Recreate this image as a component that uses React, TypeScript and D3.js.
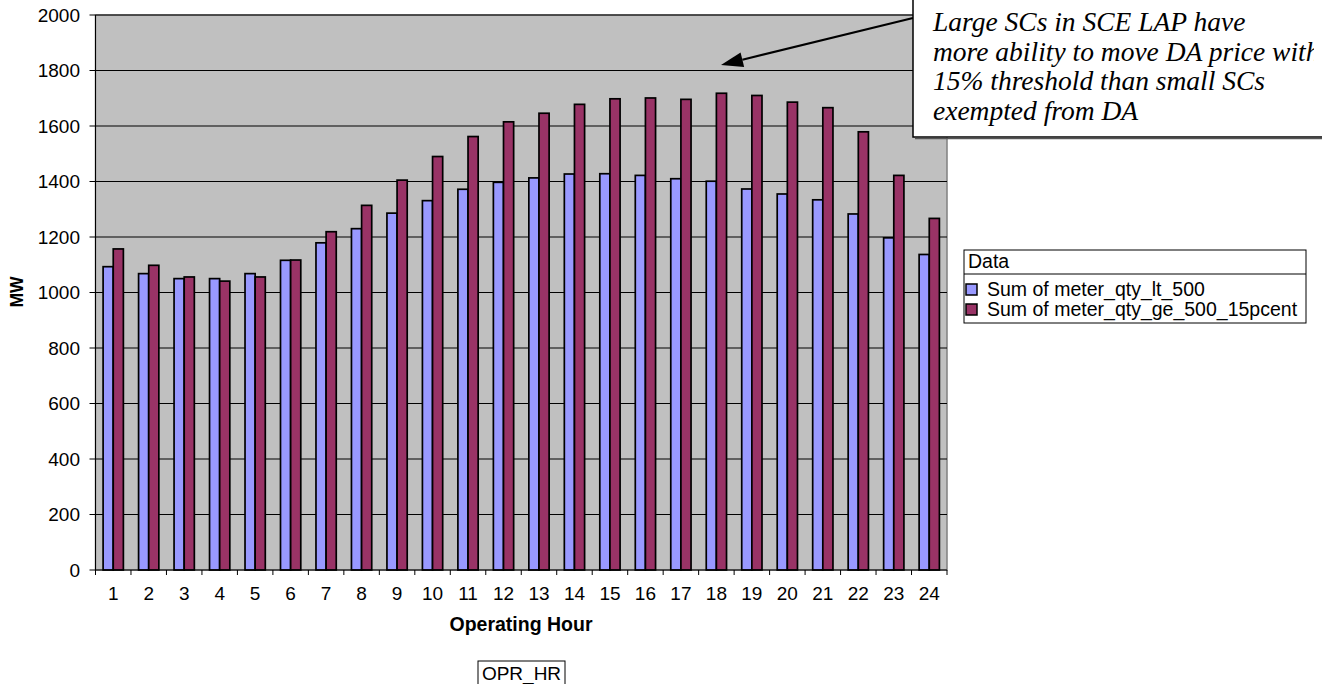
import React from "react";
import * as d3 from "d3";

const hours = ["1","2","3","4","5","6","7","8","9","10","11","12","13","14","15","16","17","18","19","20","21","22","23","24"];
const seriesNames = ["Sum of meter_qty_lt_500", "Sum of meter_qty_ge_500_15pcent"];
const ltValues = [1093,1068,1050,1050,1068,1116,1179,1230,1286,1331,1372,1397,1413,1427,1428,1422,1410,1401,1373,1355,1334,1283,1197,1137];
const geValues = [1157,1098,1056,1041,1056,1117,1219,1314,1405,1490,1562,1615,1646,1678,1698,1701,1696,1718,1710,1686,1666,1579,1422,1267];
const yTicks = [0,200,400,600,800,1000,1200,1400,1600,1800,2000];
const noteLines = ["Large SCs in SCE LAP have", "more ability to move DA price with", "15% threshold than small SCs", "exempted from DA"];
const colors = ["#9999FF", "#993366"];

export default function App() {
  const W = 1322, H = 684;
  const left = 95.5, right = 947, top = 15, bottom = 570;
  const x = d3.scaleBand().domain(hours).range([left, right]).paddingInner(0).paddingOuter(0);
  const xi = d3.scaleBand().domain(seriesNames).range([0, x.bandwidth()]).paddingInner(0).paddingOuter(0.75);
  const y = d3.scaleLinear().domain([0, 2000]).range([bottom, top]);
  const values = [ltValues, geValues];
  const font = "Arial, 'Liberation Sans', sans-serif";

  const tip: [number, number] = [721, 65];
  const start: [number, number] = [913, 18];
  const arrowHead = (() => {
    const a = Math.atan2(start[1] - tip[1], start[0] - tip[0]);
    const L = 22, hw = 7.5;
    const bx = tip[0] + L * Math.cos(a), by = tip[1] + L * Math.sin(a);
    const px = -Math.sin(a) * hw, py = Math.cos(a) * hw;
    return { d: `M${tip[0]},${tip[1]} L${bx + px},${by + py} L${bx - px},${by - py} Z`, bx, by };
  })();

  return (
    <div style={{ position: "absolute", left: 0, top: 0 }}>
      <svg width={W} height={H} style={{ display: "block", background: "#fff" }}>
        <defs>
          <clipPath id="noteClip">
            <rect x={913} y={0} width={401} height={137} />
          </clipPath>
        </defs>
        <rect x={left} y={top} width={right - left} height={bottom - top} fill="#C0C0C0" stroke="#808080" strokeWidth={1.5} />
        {yTicks.filter(t => t > 0).map(t => (
          <line key={"g" + t} x1={left} x2={right} y1={y(t)} y2={y(t)} stroke="#000" strokeWidth={1} />
        ))}
        {hours.map((h, i) => (
          <g key={"b" + h}>
            {seriesNames.map((s, j) => (
              <rect key={s}
                x={(x(h) as number) + (xi(s) as number)}
                y={y(values[j][i])}
                width={xi.bandwidth()}
                height={bottom - y(values[j][i])}
                fill={colors[j]} stroke="#000" strokeWidth={1.7} />
            ))}
          </g>
        ))}
        <line x1={left} x2={left} y1={top} y2={bottom} stroke="#000" strokeWidth={1} />
        <line x1={left} x2={right} y1={bottom} y2={bottom} stroke="#000" strokeWidth={1} />
        {yTicks.map(t => (
          <g key={"yt" + t}>
            <line x1={left - 6} x2={left} y1={y(t)} y2={y(t)} stroke="#000" />
            <text x={80} y={y(t)} dy="0.35em" textAnchor="end" fontFamily={font} fontSize={19} fill="#000">{t}</text>
          </g>
        ))}
        {[...hours.map(h => x(h) as number), right].map((px, i) => (
          <line key={"xt" + i} x1={px} x2={px} y1={bottom} y2={bottom + 5} stroke="#000" />
        ))}
        {hours.map(h => (
          <text key={"xl" + h} x={(x(h) as number) + x.bandwidth() / 2} y={600} textAnchor="middle" fontFamily={font} fontSize={19} fill="#000">{h}</text>
        ))}
        <text x={521} y={631} textAnchor="middle" fontFamily={font} fontSize={19.5} fontWeight="bold" fill="#000">Operating Hour</text>
        <text transform={`translate(23,292) rotate(-90)`} textAnchor="middle" fontFamily={font} fontSize={17.5} fontWeight="bold" fill="#000">MW</text>
        <rect x={478} y={661} width={87} height={26} fill="#fff" stroke="#000" strokeWidth={1} />
        <text x={521.5} y={680} textAnchor="middle" fontFamily={font} fontSize={19} fill="#000">OPR_HR</text>
        <rect x={964} y={250} width={342} height={73} fill="#fff" stroke="#000" strokeWidth={1} />
        <line x1={964} x2={1306} y1={274} y2={274} stroke="#000" strokeWidth={1} />
        <text x={968} y={268} fontFamily={font} fontSize={19.5} fill="#000">Data</text>
        {seriesNames.map((s, j) => (
          <g key={"lg" + s}>
            <rect x={966} y={284 + j * 20} width={11} height={11} fill={colors[j]} stroke="#000" strokeWidth={1.5} />
            <text x={987} y={296 + j * 20} fontFamily={font} fontSize={19.5} fill="#000">{s}</text>
          </g>
        ))}
        <line x1={start[0]} y1={start[1]} x2={arrowHead.bx} y2={arrowHead.by} stroke="#000" strokeWidth={2.2} />
        <path d={arrowHead.d} fill="#000" />
        <rect x={913} y={-5} width={420} height={142} fill="#fff" stroke="#000" strokeWidth={1.5} />
        <line x1={915} x2={1322} y1={138.5} y2={138.5} stroke="#555" strokeWidth={1.5} />
        <g clipPath="url(#noteClip)">
          {noteLines.map((l, i) => (
            <text key={"n" + i} x={933} y={31 + i * 29.5} fontFamily="'Liberation Serif', 'Times New Roman', serif" fontStyle="italic" fontSize={27.5} fill="#000">{l}</text>
          ))}
        </g>
      </svg>
    </div>
  );
}
